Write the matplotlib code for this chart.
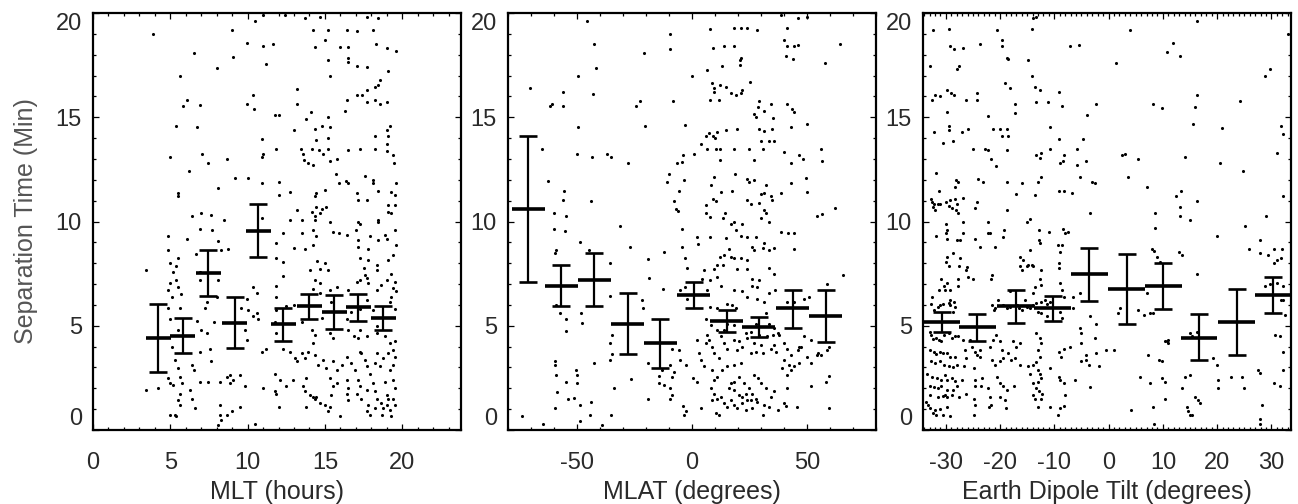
import numpy as np
import matplotlib
matplotlib.use("Agg")
import matplotlib.pyplot as plt
from matplotlib.ticker import MultipleLocator

plt.rcParams['font.family'] = ['Liberation Sans', 'DejaVu Sans']

# binned means with upper / lower error limits
mlt_bin = [4.22, 5.80, 7.46, 9.18, 10.69, 12.31, 13.99, 15.61, 17.16, 18.78]
mlt_mean = [4.40, 4.52, 7.51, 5.15, 9.54, 5.08, 5.95, 5.67, 5.88, 5.36]
mlt_hi = [6.04, 5.36, 8.63, 6.39, 10.84, 5.84, 6.52, 6.47, 6.52, 5.95]
mlt_lo = [2.80, 3.71, 6.43, 3.92, 8.28, 4.28, 5.31, 4.84, 5.24, 4.80]

mlat_bin = [-71.1, -56.9, -42.5, -28.0, -13.7, 0.8, 15.0, 29.1, 43.7, 58.2]
mlat_mean = [10.60, 6.91, 7.19, 5.08, 4.16, 6.47, 5.24, 4.93, 5.84, 5.47]
mlat_hi = [14.10, 7.91, 8.47, 6.55, 5.32, 7.11, 5.76, 5.40, 6.71, 6.71]
mlat_lo = [7.11, 5.95, 5.95, 3.65, 2.96, 5.84, 4.72, 4.45, 4.88, 4.24]

tilt_bin = [-30.76, -24.2, -17.1, -10.3, -3.56, 3.33, 10.07, 16.65, 23.6, 30.3]
tilt_mean = [5.20, 4.93, 5.95, 5.84, 7.47, 6.75, 6.92, 4.43, 5.17, 6.47]
tilt_hi = [5.67, 5.55, 6.71, 6.44, 8.71, 8.43, 7.99, 5.55, 6.75, 7.35]
tilt_lo = [4.71, 4.28, 5.12, 5.24, 6.20, 5.08, 5.80, 3.36, 3.60, 5.60]

# individual events (x, separation time)
mlt_events = [
    (3.86, 19.0), (8.97, 19.2), (9.94, 18.55), (10.47, 19.6), (11.0, 18.4), (11.66, 18.5),
    (9.07, 17.9), (8.0, 17.35), (11.16, 17.55), (11.0, 19.9), (12.4, 19.9), (13.7, 19.75),
    (14.7, 19.8), (17.7, 19.8), (18.45, 19.75), (14.25, 19.2), (15.2, 19.2), (16.4, 19.2),
    (17.05, 19.15), (18.1, 19.2), (15.0, 18.7), (14.35, 18.35), (15.97, 18.35), (16.5, 18.35),
    (18.3, 18.5), (19.0, 18.3), (19.6, 18.2), (15.2, 17.75), (16.5, 17.85), (16.5, 17.65),
    (17.05, 17.45), (17.7, 17.4), (19.1, 17.2), (5.63, 17.0), (15.3, 17.0), (6.5, 18.1),
    (18.55, 16.8), (18.45, 16.55), (18.25, 16.45), (17.7, 16.3), (17.4, 16.05), (17.05, 16.05),
    (17.7, 15.75), (18.25, 15.85), (18.55, 15.65), (19.0, 15.75), (16.4, 15.85), (16.3, 15.3),
    (13.2, 16.35), (6.05, 15.85), (5.85, 15.55), (6.9, 15.6), (9.94, 15.65), (10.37, 16.05),
    (10.4, 15.4), (11.8, 15.1), (12.05, 15.1), (13.2, 15.65), (14.1, 15.25), (15.2, 15.0),
    (13.8, 14.9), (5.4, 14.6), (6.7, 14.55), (13.0, 14.4), (14.35, 14.45), (14.8, 14.6),
    (15.3, 14.55), (19.0, 14.4), (19.2, 14.6), (19.05, 14.1), (18.25, 14.1), (19.0, 13.7),
    (14.45, 13.9), (15.2, 14.0), (10.9, 13.95), (13.45, 13.5), (14.15, 13.5), (14.6, 13.45),
    (15.2, 13.5), (16.5, 13.45), (17.25, 13.5), (18.25, 13.5), (19.0, 13.4), (11.85, 13.5),
    (4.98, 13.1), (7.03, 13.25), (11.0, 13.25), (10.9, 13.1), (13.6, 13.25), (13.65, 12.95),
    (13.9, 12.8), (14.2, 12.7), (14.9, 13.25), (15.3, 12.9), (15.8, 13.0), (19.4, 13.2),
    (19.45, 12.8), (7.45, 12.8), (8.65, 13.0), (6.2, 12.4), (9.2, 12.1), (10.05, 12.1),
    (10.9, 11.85), (12.0, 11.9), (12.75, 11.4), (15.7, 12.3), (15.9, 11.85), (16.35, 11.95),
    (16.5, 11.85), (17.6, 12.2), (18.1, 12.0), (18.1, 11.85), (19.6, 11.85), (8.1, 11.6),
    (12.0, 11.25), (14.45, 11.35), (14.35, 11.2), (15.0, 11.5), (17.1, 11.35), (17.15, 11.05),
    (17.7, 11.05), (18.45, 11.45), (19.25, 11.4), (19.55, 11.25), (5.52, 11.35), (5.52, 11.2),
    (14.45, 10.7), (14.8, 10.6), (15.1, 10.7), (14.15, 10.45), (14.35, 10.25), (13.2, 10.55),
    (12.75, 10.05), (13.5, 10.05), (14.35, 10.05), (14.7, 10.4), (15.3, 10.0), (19.1, 10.8),
    (19.1, 10.45), (19.3, 10.4), (19.55, 10.8), (18.45, 10.05), (18.4, 10.0), (6.4, 10.25),
    (7.0, 10.4), (7.6, 10.3), (8.5, 10.05), (10.9, 10.15), (17.15, 10.0), (17.25, 9.9),
    (15.55, 9.5), (15.9, 9.45), (13.5, 9.45), (14.25, 9.6), (14.45, 9.3), (16.4, 9.35),
    (17.0, 9.6), (17.15, 9.1), (17.9, 9.3), (18.9, 9.35), (19.55, 9.6), (6.9, 9.65),
    (7.7, 9.6), (4.87, 9.3), (6.05, 9.15), (12.3, 9.45), (11.85, 8.95), (8.1, 9.05),
    (8.75, 8.7), (8.3, 8.65), (13.0, 8.75), (13.7, 8.7), (14.25, 8.85), (17.15, 8.8),
    (17.8, 8.7), (18.45, 9.1), (19.0, 9.15), (19.6, 8.85), (4.87, 8.65), (5.52, 8.25),
    (4.98, 8.0), (6.65, 8.45), (11.85, 8.25), (12.3, 8.05), (14.5, 8.1), (15.0, 8.0),
    (17.25, 8.25), (17.8, 8.15), (18.35, 7.9), (19.1, 8.15), (19.4, 8.4), (3.43, 7.65),
    (5.4, 7.85), (5.2, 7.6), (6.9, 7.6), (14.05, 7.65), (14.7, 7.7), (15.2, 7.65),
    (17.5, 7.75), (17.6, 7.45), (17.7, 7.3), (18.35, 7.65), (19.25, 7.5), (4.98, 7.05),
    (5.4, 7.2), (6.9, 7.2), (8.1, 7.2), (12.3, 7.4), (14.35, 7.2), (14.7, 7.05),
    (17.05, 7.1), (17.25, 7.2), (17.8, 7.05), (19.0, 7.2), (19.55, 7.1), (4.87, 6.7),
    (5.5, 6.85), (10.35, 6.85), (10.6, 6.55), (11.85, 6.9), (14.25, 6.75), (14.7, 6.55),
    (15.3, 6.7), (15.75, 6.85), (16.5, 6.7), (18.35, 6.7), (18.65, 6.95), (19.4, 6.8),
    (19.6, 6.65), (5.1, 6.4), (5.7, 6.5), (7.35, 6.15), (8.0, 6.4), (9.95, 6.3),
    (11.85, 6.4), (13.0, 6.0), (15.4, 6.15), (17.7, 6.25), (19.2, 6.15), (19.3, 6.4),
    (4.87, 5.85), (5.6, 5.85), (7.25, 5.85), (9.55, 5.85), (10.05, 5.75), (10.6, 5.6),
    (10.35, 5.45), (10.7, 5.3), (11.85, 5.75), (12.5, 5.95), (16.7, 5.65), (17.25, 5.8),
    (18.1, 5.75), (19.55, 5.8), (4.98, 5.3), (5.52, 4.8), (6.7, 5.25), (7.0, 4.8),
    (7.8, 5.2), (7.35, 4.65), (9.8, 4.8), (9.95, 4.3), (11.75, 5.2), (11.85, 4.65),
    (13.5, 5.2), (14.15, 4.8), (14.35, 4.55), (14.25, 4.15), (14.8, 5.35), (15.3, 4.65),
    (15.55, 4.4), (16.4, 5.3), (16.5, 4.8), (16.85, 4.5), (17.25, 4.8), (17.15, 4.4),
    (17.7, 4.5), (18.35, 5.0), (18.35, 4.65), (18.9, 4.5), (19.2, 4.15), (19.55, 4.25),
    (19.4, 3.85), (5.1, 4.0), (5.3, 3.35), (5.52, 2.95), (6.9, 3.75), (7.55, 3.9),
    (7.65, 3.3), (6.4, 3.1), (6.5, 2.9), (10.9, 3.75), (11.2, 3.9), (12.3, 3.9),
    (12.75, 3.75), (13.05, 3.45), (13.2, 3.3), (13.5, 3.7), (13.7, 3.45), (13.9, 3.75),
    (14.35, 3.6), (14.55, 3.1), (14.9, 3.35), (15.1, 2.95), (15.55, 3.3), (15.75, 2.9),
    (16.1, 3.1), (16.4, 3.5), (16.7, 3.2), (16.95, 2.9), (17.25, 3.75), (17.35, 3.7),
    (17.6, 3.35), (17.7, 3.05), (17.9, 2.7), (18.35, 3.7), (18.25, 3.2), (18.55, 3.05),
    (18.75, 3.45), (19.1, 3.7), (19.55, 3.5), (19.4, 3.1), (19.2, 2.9), (8.65, 2.55),
    (8.85, 2.65), (9.5, 2.65), (8.2, 2.3), (8.85, 2.25), (9.05, 2.4), (6.9, 2.3),
    (7.45, 2.3), (5.6, 2.55), (5.75, 2.25), (4.87, 2.5), (4.2, 2.0), (3.43, 1.9),
    (4.98, 2.25), (5.2, 2.15), (5.6, 1.75), (5.52, 1.45), (5.6, 1.2), (6.25, 1.9),
    (6.4, 1.5), (6.6, 1.05), (4.98, 0.7), (5.3, 0.7), (5.35, 0.65), (9.85, 2.1),
    (11.0, 2.0), (11.75, 2.7), (12.1, 2.4), (11.85, 1.75), (11.75, 1.85), (12.5, 2.1),
    (12.95, 2.4), (12.0, 1.1), (13.8, 2.5), (13.6, 2.1), (13.7, 1.85), (14.05, 1.7),
    (14.25, 1.6), (14.35, 1.5), (14.45, 1.6), (13.8, 1.1), (14.7, 1.3), (15.0, 1.2),
    (15.3, 1.1), (15.2, 0.9), (15.3, 2.5), (15.55, 2.1), (15.4, 1.7), (15.75, 2.25),
    (15.95, 0.65), (16.4, 2.4), (16.5, 2.0), (16.4, 1.75), (16.5, 1.45), (17.15, 2.4),
    (17.25, 2.1), (17.05, 1.75), (17.35, 1.5), (17.7, 1.9), (17.8, 1.2), (17.7, 0.9),
    (17.9, 0.7), (18.1, 2.25), (18.25, 1.85), (18.35, 1.5), (18.25, 1.05), (18.65, 1.3),
    (18.75, 1.05), (19.0, 1.7), (19.1, 1.5), (19.0, 1.2), (19.2, 0.95), (19.3, 0.65),
    (19.4, 2.4), (19.55, 2.0), (19.4, 1.5), (19.55, 1.2), (18.9, 2.3), (8.2, 1.2),
    (8.2, 0.7), (8.3, 0.5), (8.65, 0.7), (9.0, 0.9), (9.5, 1.1), (8.1, 0.25),
    (10.47, 0.3), (18.7, 0.7),
]

mlat_events = [
    (-45.7, 19.6), (-9.4, 19.0), (-9.4, 18.25), (-20.7, 18.1), (-42.5, 18.5), (-41.6, 17.35),
    (-49.6, 17.0), (-70.4, 16.4), (-55.9, 16.2), (-43.1, 16.1), (-61.0, 15.65), (-61.7, 15.55),
    (-55.9, 15.55), (-22.7, 15.8), (-24.2, 15.55), (-49.6, 14.55), (-20.3, 14.6), (-65.3, 13.5),
    (-50.1, 13.25), (-43.5, 13.1), (-37.0, 13.25), (-35.2, 13.1), (-28.0, 12.8), (-62.4, 11.95),
    (-55.5, 11.45), (-56.1, 11.05), (-44.0, 11.0), (-59.9, 10.4), (-54.7, 10.25), (-60.2, 9.65),
    (-55.1, 9.55), (-31.5, 9.8), (-48.9, 9.0), (-59.1, 8.65), (-59.5, 8.5), (-45.0, 8.65),
    (-35.5, 8.0), (-27.1, 8.8), (-59.1, 6.0), (-57.6, 5.6), (-54.7, 5.3), (-54.7, 4.75),
    (-48.3, 5.6), (-47.9, 5.15), (-35.5, 6.45), (-34.8, 4.55), (-35.5, 4.15), (-34.8, 3.65),
    (-35.5, 3.35), (-33.8, 2.0), (-59.5, 3.3), (-59.5, 3.1), (-59.1, 2.65), (-54.7, 2.3),
    (-58.8, 1.8), (-54.1, 1.5), (-51.2, 1.55), (-59.5, 1.05), (-50.3, 2.9), (-50.1, 2.65),
    (-49.9, 2.25), (-48.6, 1.2), (-44.0, 1.35), (-44.5, 0.7), (-42.8, 3.2), (-48.6, 0.45),
    (-39.2, 0.25), (-35.2, 0.7), (-64.6, 0.3), (-74.0, 0.65), (-26.5, 2.45), (-19.2, 3.2),
    (-19.2, 1.5), (-21.7, 6.25), (-21.3, 5.85), (-19.2, 8.2), (-18.8, 7.3), (-12.3, 8.55),
    (-12.6, 6.75), (-14.4, 2.6), (-13.0, 2.9), (-12.0, 2.15), (-14.4, 2.25), (-9.7, 2.0),
    (-8.6, 2.55), (-9.4, 3.1), (-8.0, 2.8), (-8.7, 3.9), (-9.7, 1.5), (-8.7, 1.7),
    (-5.6, 3.85), (-5.3, 3.35), (-2.8, 3.1), (-3.8, 1.15), (-2.8, 0.9), (-3.3, 0.7),
    (0.6, 2.5), (2.3, 2.3), (4.0, 1.05), (-10.1, 12.3), (-10.8, 11.9), (-8.0, 11.0),
    (-6.8, 10.6), (-6.1, 10.5), (-5.8, 11.45), (-6.5, 12.8), (-4.3, 12.85), (-4.0, 13.2),
    (-3.6, 12.0), (-3.2, 14.65), (-8.3, 15.8), (0.1, 17.0), (0.8, 13.25), (-4.4, 9.65),
    (-4.4, 8.8), (-3.2, 8.25), (-2.2, 7.75), (-5.3, 6.7), (-3.2, 6.85), (-2.2, 6.3),
    (2.3, 9.25), (2.6, 8.9), (7.8, 9.25), (4.5, 7.25), (5.2, 7.65), (6.6, 6.7),
    (3.7, 13.7), (6.6, 13.5), (5.9, 14.1), (7.4, 14.25), (6.6, 17.25), (7.8, 19.25),
    (9.2, 18.3), (8.8, 16.65), (9.5, 16.4), (9.5, 16.2), (7.8, 15.85), (11.7, 15.85),
    (12.2, 16.55), (9.2, 14.1), (9.8, 14.0), (11.0, 14.3), (14.6, 14.4), (10.6, 13.5),
    (12.2, 13.5), (12.2, 12.95), (8.1, 11.75), (9.5, 12.15), (9.2, 11.1), (10.6, 11.0),
    (6.0, 10.8), (6.3, 10.4), (7.8, 10.2), (13.6, 10.15), (14.2, 10.4), (12.4, 11.4),
    (17.5, 11.45), (18.5, 12.3), (18.2, 13.5), (13.9, 18.4), (18.2, 18.4), (13.2, 17.45),
    (18.2, 19.3), (21.2, 19.3), (24.1, 19.3), (28.1, 19.2), (20.7, 17.75), (21.2, 17.85),
    (20.7, 17.5), (17.1, 16.15), (19.0, 16.05), (21.2, 16.15), (21.9, 16.3), (14.6, 16.45),
    (25.2, 16.7), (19.4, 14.45), (24.8, 13.5), (27.0, 12.95), (29.2, 15.8), (28.7, 15.5),
    (27.0, 15.15), (27.7, 15.0), (31.3, 15.3), (34.3, 15.65), (29.2, 14.45), (31.1, 14.35),
    (30.2, 13.85), (30.7, 13.5), (33.6, 13.85), (35.7, 13.85), (35.1, 14.95), (34.7, 14.45),
    (41.5, 15.65), (43.3, 15.4), (44.4, 15.25), (43.0, 14.55), (41.5, 19.3), (40.0, 18.7),
    (41.2, 18.4), (44.4, 18.4), (46.2, 18.45), (40.8, 17.95), (43.7, 17.8), (45.9, 19.75),
    (50.2, 19.8), (38.6, 19.9), (57.8, 17.6), (64.5, 18.5), (40.0, 13.35), (43.0, 12.8),
    (46.6, 13.2), (48.1, 13.0), (43.0, 11.85), (49.5, 12.1), (50.2, 11.4), (50.2, 14.7),
    (56.0, 13.5), (56.7, 12.9), (54.3, 10.25), (56.7, 10.35), (62.3, 10.65), (38.6, 11.35),
    (34.3, 11.2), (34.7, 11.05), (32.1, 11.75), (31.3, 11.35), (29.9, 11.3), (29.2, 10.9),
    (31.3, 10.55), (32.1, 10.4), (30.2, 10.15), (33.6, 10.0), (38.6, 9.5), (41.8, 9.45),
    (44.4, 9.45), (44.4, 8.7), (27.0, 12.0), (24.1, 12.05), (24.8, 11.9), (24.1, 11.05),
    (25.5, 10.85), (18.2, 10.0), (16.8, 9.9), (19.0, 9.6), (21.9, 9.9), (21.2, 9.3),
    (24.1, 9.25), (27.7, 9.25), (25.9, 8.8), (27.0, 8.65), (30.7, 8.75), (31.3, 8.95),
    (33.6, 8.65), (35.7, 8.75), (14.6, 9.2), (16.1, 8.7), (12.2, 8.3), (13.9, 8.4),
    (11.0, 7.9), (13.6, 7.9), (16.8, 8.3), (18.2, 8.25), (21.2, 8.25), (24.1, 8.15),
    (9.5, 7.7), (7.8, 7.2), (11.0, 7.35), (12.4, 6.9), (19.7, 7.7), (24.1, 7.7),
    (25.9, 7.25), (29.2, 7.2), (33.6, 7.75), (35.7, 7.5), (25.9, 6.9), (28.1, 6.85),
    (18.2, 6.7), (21.9, 6.65), (24.1, 6.4), (28.1, 6.3), (31.3, 6.15), (33.6, 6.55),
    (36.0, 6.7), (41.5, 6.15), (44.4, 6.15), (48.8, 6.3), (51.0, 6.4), (58.7, 7.0),
    (65.6, 7.45), (15.1, 6.05), (17.5, 6.0), (19.0, 5.85), (7.8, 5.9), (11.0, 5.85),
    (6.0, 5.3), (8.1, 5.05), (11.0, 4.8), (12.4, 4.5), (7.4, 4.3), (8.9, 4.0),
    (9.5, 3.7), (11.7, 3.45), (6.6, 4.55), (6.3, 4.15), (13.9, 4.15), (15.3, 3.9),
    (18.2, 4.3), (19.7, 3.85), (20.4, 4.25), (21.9, 4.0), (24.1, 4.4), (25.5, 3.7),
    (27.0, 4.15), (27.7, 3.75), (29.9, 4.1), (30.7, 3.7), (32.8, 4.5), (34.3, 3.9),
    (35.7, 4.1), (36.4, 3.75), (37.9, 4.55), (40.0, 4.15), (41.5, 3.9), (43.0, 3.6),
    (45.9, 3.85), (47.3, 4.0), (50.2, 3.5), (51.7, 3.2), (54.6, 3.7), (56.0, 3.6),
    (58.9, 3.85), (42.3, 3.1), (44.4, 3.05), (40.0, 3.35), (43.0, 2.9), (46.6, 3.2),
    (41.5, 2.65), (39.3, 2.95), (41.5, 2.0), (51.7, 2.1), (58.2, 2.3), (59.6, 2.6),
    (59.6, 1.05), (45.6, 1.1), (40.0, 1.3), (40.8, 1.15), (37.2, 0.95), (33.6, 1.1),
    (31.3, 1.2), (30.7, 0.7), (35.7, 1.85), (34.3, 1.6), (32.1, 2.0), (29.9, 2.25),
    (28.5, 2.5), (27.0, 2.65), (24.8, 2.0), (23.3, 1.75), (21.9, 1.6), (20.4, 1.7),
    (22.6, 2.25), (25.9, 1.75), (27.7, 1.5), (25.5, 1.45), (24.1, 1.45), (18.2, 1.9),
    (16.8, 2.25), (16.1, 2.0), (18.2, 2.3), (20.4, 2.55), (13.2, 2.9), (15.3, 3.05),
    (18.2, 3.1), (21.2, 3.2), (11.0, 2.55), (8.8, 2.9), (9.5, 2.4), (8.4, 2.0),
    (9.5, 1.75), (11.0, 1.5), (8.8, 1.45), (12.4, 1.6), (13.9, 1.3), (15.3, 1.1),
    (16.8, 1.45), (18.2, 1.2), (19.7, 1.05), (10.3, 0.8), (11.7, 0.7), (21.9, 1.3),
    (23.3, 0.95), (25.9, 1.05), (28.1, 1.35), (3.7, 3.35), (3.0, 3.7), (2.3, 4.3),
    (5.2, 3.05), (35.1, 4.55), (33.6, 5.1), (32.1, 5.6), (35.7, 4.9), (37.2, 4.65),
    (25.5, 4.7), (27.7, 5.1), (29.2, 4.55), (23.3, 4.65), (13.9, 4.8), (15.3, 5.1),
    (18.2, 5.05), (46.6, 4.0), (48.8, 4.5), (51.7, 4.3), (54.3, 3.6), (59.6, 4.0),
]

tilt_events = [
    (-32.4, 19.2), (-29.5, 19.25), (-29.3, 18.4), (-28.5, 18.25), (-26.9, 18.3), (-23.7, 18.5),
    (-20.6, 19.2), (-19.7, 18.7), (-19.7, 18.4), (-18.8, 17.85), (-18.5, 17.8), (-14.8, 17.75),
    (-14.2, 19.25), (-14.0, 19.75), (-13.3, 19.8), (-7.1, 18.4), (-5.4, 18.45), (3.9, 19.2),
    (1.4, 17.6), (10.7, 18.15), (11.9, 18.55), (13.1, 17.95), (16.35, 19.6), (28.8, 17.0),
    (29.8, 17.3), (-33.0, 17.45), (-32.6, 15.85), (-32.0, 16.05), (-31.1, 16.0), (-29.8, 16.3),
    (-29.1, 16.15), (-28.5, 16.05), (-28.0, 17.3), (-27.5, 17.45), (-24.3, 16.15), (-24.3, 15.85),
    (-26.3, 15.85), (-19.1, 16.65), (-18.2, 16.4), (-17.25, 15.65), (-14.2, 17.0), (-13.6, 16.45),
    (-12.6, 16.3), (-13.3, 15.75), (-11.1, 15.75), (-9.1, 16.2), (-8.6, 15.55), (-17.25, 15.2),
    (-4.0, 15.1), (-2.4, 15.65), (8.2, 15.65), (9.8, 15.45), (16.2, 16.05), (15.9, 15.5),
    (15.6, 14.7), (24.2, 15.8), (20.8, 14.5), (31.7, 14.6), (-32.2, 14.3), (-29.7, 15.25),
    (-29.5, 14.6), (-29.5, 14.4), (-30.5, 13.75), (-28.7, 13.85), (-24.9, 13.5), (-22.8, 13.5),
    (-22.2, 13.45), (-27.1, 14.3), (-25.9, 14.45), (-22.2, 15.05), (-21.3, 14.45), (-20.0, 14.45),
    (-18.8, 14.45), (-19.7, 14.1), (-18.5, 14.1), (-18.7, 13.45), (-21.6, 13.0), (-20.8, 12.65),
    (-13.3, 13.2), (-12.4, 13.3), (-12.6, 13.05), (-10.8, 14.55), (-9.1, 13.95), (-9.0, 12.8),
    (-8.4, 12.9), (-8.2, 13.2), (-10.8, 13.5), (-5.9, 13.5), (-5.9, 12.7), (-4.7, 13.95),
    (-4.2, 12.9), (-12.4, 12.15), (-13.0, 11.9), (-9.1, 11.45), (-8.2, 11.45), (-6.7, 11.35),
    (-5.3, 12.15), (-3.1, 11.9), (-2.5, 11.85), (2.4, 13.2), (3.0, 13.25), (5.5, 13.0),
    (3.6, 12.15), (7.1, 11.65), (24.8, 12.4), (20.5, 12.8), (14.1, 13.1), (31.0, 13.3),
    (-31.8, 12.35), (-31.2, 11.45), (-28.1, 12.0), (-27.7, 11.9), (-28.3, 11.65), (-24.0, 12.05),
    (-23.2, 11.9), (-18.8, 11.9), (-17.1, 11.3), (-16.0, 11.85), (-13.6, 11.25), (-32.8, 11.1),
    (-32.6, 10.95), (-32.2, 10.85), (-31.5, 10.85), (-31.0, 10.85), (-32.3, 10.7), (-32.0, 10.55),
    (-30.0, 10.95), (-29.2, 11.05), (-28.3, 11.1), (-29.5, 10.75), (-28.9, 10.65), (-28.1, 10.55),
    (-27.7, 10.4), (-28.0, 10.85), (-26.9, 11.15), (-26.8, 10.0), (-24.3, 10.95), (-24.6, 10.65),
    (-18.8, 10.55), (-15.1, 10.0), (-14.5, 10.1), (-30.0, 9.9), (-29.7, 9.6), (-30.0, 9.45),
    (-29.7, 9.15), (-31.8, 9.3), (-28.0, 9.1), (-27.4, 9.1), (-26.8, 9.45), (-22.3, 10.0),
    (-21.9, 9.45), (-22.3, 9.45), (-19.3, 9.6), (-19.4, 9.25), (-24.6, 9.15), (-23.7, 8.8),
    (-20.9, 8.8), (-12.8, 9.6), (-12.8, 9.1), (-12.6, 8.95), (-11.0, 9.5), (-9.3, 8.85),
    (-8.6, 8.85), (-8.4, 9.65), (-8.1, 9.45), (-7.4, 9.5), (-9.0, 8.55), (-9.1, 8.0),
    (-3.4, 10.4), (8.5, 10.4), (8.5, 9.7), (12.5, 11.2), (13.1, 10.7), (13.1, 10.25),
    (15.0, 10.05), (16.2, 11.0), (13.4, 11.45), (20.0, 9.3), (25.1, 9.8), (29.0, 10.25),
    (32.2, 11.2), (7.9, 8.7), (8.3, 8.6), (12.9, 8.55), (13.5, 8.4), (16.2, 7.5),
    (25.9, 8.7), (27.9, 9.1), (27.9, 8.5), (29.3, 8.4), (30.5, 8.7), (31.7, 8.25),
    (32.0, 8.7), (30.5, 8.0), (31.1, 8.15), (28.8, 6.9), (29.8, 7.0), (31.0, 7.05),
    (32.2, 6.9), (31.7, 6.25), (32.2, 6.25), (-29.7, 8.3), (-30.0, 8.05), (-29.5, 7.85),
    (-28.7, 8.5), (-27.4, 8.25), (-27.5, 7.85), (-26.3, 7.65), (-25.9, 7.35), (-24.9, 7.25),
    (-26.1, 7.8), (-30.8, 7.25), (-30.4, 6.9), (-30.2, 6.7), (-31.2, 6.7), (-29.7, 7.05),
    (-29.2, 6.7), (-29.2, 6.25), (-28.5, 6.15), (-27.7, 7.25), (-27.7, 6.9), (-21.4, 7.45),
    (-21.6, 7.25), (-16.3, 8.3), (-15.7, 8.15), (-15.1, 7.85), (-16.3, 7.85), (-16.0, 7.65),
    (-14.5, 8.65), (-14.8, 7.9), (-14.2, 7.9), (-13.9, 7.85), (-12.4, 7.65), (-12.6, 7.25),
    (-12.4, 6.95), (-13.6, 6.85), (-13.9, 6.55), (-9.1, 7.75), (-9.0, 7.05), (-8.5, 6.7),
    (-8.2, 6.4), (-18.2, 6.65), (-5.3, 6.55), (-20.3, 6.25), (-19.4, 6.0), (-18.8, 5.85),
    (-18.2, 5.9), (-16.9, 6.0), (-16.6, 5.85), (-16.0, 5.75), (-15.4, 6.25), (-15.1, 5.9),
    (-14.5, 5.85), (-13.9, 6.0), (-13.3, 6.1), (-12.4, 6.15), (-11.7, 6.25), (-11.4, 6.05),
    (-10.8, 6.15), (-13.0, 5.65), (-12.4, 5.6), (-11.4, 5.45), (-6.6, 6.4), (-6.6, 5.85),
    (5.5, 5.75), (6.5, 5.5), (7.6, 5.6), (8.2, 5.6), (-2.3, 5.1), (-3.4, 5.45),
    (-5.2, 4.9), (2.1, 5.85), (1.8, 5.6), (-9.0, 5.65), (-8.6, 5.35), (-32.6, 6.4),
    (-32.8, 6.05), (-32.2, 5.75), (-31.5, 5.9), (-31.1, 6.0), (-30.5, 6.05), (-29.5, 6.1),
    (-29.2, 6.0), (-28.3, 5.9), (-28.6, 5.65), (-21.4, 6.0), (-20.9, 5.85), (-21.1, 5.75),
    (-33.0, 4.7), (-32.8, 4.55), (-32.4, 4.35), (-31.8, 4.4), (-31.2, 4.3), (-30.8, 4.25),
    (-30.4, 4.55), (-29.5, 4.65), (-28.9, 4.4), (-28.3, 4.5), (-27.7, 4.5), (-32.9, 3.85),
    (-32.2, 3.75), (-31.8, 3.65), (-31.1, 3.75), (-30.5, 3.7), (-29.7, 3.7), (-29.3, 3.5),
    (-28.3, 3.5), (-32.8, 3.3), (-32.0, 3.2), (-31.1, 3.3), (-30.4, 3.1), (-29.5, 3.05),
    (-28.7, 3.0), (-28.0, 3.1), (-33.5, 2.7), (-32.6, 2.55), (-31.7, 2.5), (-30.8, 2.4),
    (-30.2, 2.65), (-29.7, 2.4), (-28.9, 2.5), (-28.3, 2.35), (-32.9, 2.1), (-32.2, 2.05),
    (-31.4, 2.0), (-30.8, 2.1), (-29.7, 1.9), (-28.6, 1.9), (-28.0, 2.1), (-32.9, 1.7),
    (-31.5, 1.6), (-30.6, 1.65), (-30.2, 1.7), (-29.7, 1.6), (-28.9, 1.7), (-27.5, 1.6),
    (-33.6, 1.35), (-33.2, 1.2), (-32.9, 1.05), (-32.0, 0.95), (-31.1, 1.0), (-29.7, 1.1),
    (-29.2, 0.65), (-32.4, 0.8), (-31.8, 0.7), (-30.6, 0.7), (-26.8, 4.3), (-26.5, 3.85),
    (-26.3, 3.45), (-26.6, 3.05), (-27.1, 2.4), (-26.2, 1.75), (-25.6, 4.3), (-25.2, 4.0),
    (-24.6, 3.75), (-24.2, 3.6), (-23.7, 3.5), (-23.7, 3.85), (-24.8, 2.95), (-24.6, 2.4),
    (-24.6, 2.1), (-24.8, 1.5), (-24.6, 1.2), (-24.8, 0.7), (-23.4, 2.5), (-23.6, 2.1),
    (-22.2, 2.0), (-21.9, 1.6), (-22.0, 1.1), (-21.6, 1.2), (-21.9, 4.0), (-21.3, 4.3),
    (-20.8, 4.55), (-20.1, 4.25), (-19.7, 3.85), (-21.4, 3.35), (-20.9, 3.1), (-20.0, 3.3),
    (-19.4, 3.45), (-20.6, 2.55), (-20.0, 2.25), (-19.4, 2.1), (-18.8, 1.9), (-19.1, 1.45),
    (-20.0, 1.6), (-18.9, 1.05), (-18.5, 3.7), (-17.9, 3.35), (-17.25, 3.45), (-16.3, 3.1),
    (-17.6, 4.25), (-17.0, 4.0), (-16.3, 4.15), (-17.4, 2.1), (-14.8, 3.05), (-14.5, 2.7),
    (-13.9, 3.1), (-14.0, 2.25), (-13.3, 2.0), (-13.9, 1.7), (-13.6, 1.5), (-12.8, 1.85),
    (-13.3, 3.25), (-13.0, 2.9), (-12.6, 2.7), (-12.4, 2.5), (-13.0, 2.3), (-13.3, 4.65),
    (-12.6, 4.4), (-12.4, 4.15), (-13.0, 3.85), (-12.6, 3.5), (-13.0, 1.1), (-12.4, 1.5),
    (-12.2, 1.75), (-10.8, 1.1), (-10.8, 2.95), (-9.1, 3.75), (-8.8, 3.5), (-8.2, 3.9),
    (-7.1, 4.0), (-9.1, 2.55), (-9.0, 2.4), (-8.2, 2.25), (-8.1, 1.7), (-9.3, 0.7),
    (-9.0, 1.05), (-8.3, 1.15), (-6.2, 2.4), (-5.0, 3.3), (-4.1, 3.35), (-3.7, 3.1),
    (-3.4, 2.05), (-5.0, 4.65), (-5.0, 4.15), (-2.5, 4.4), (-1.7, 3.05), (-2.3, 3.7),
    (-0.5, 3.85), (0.9, 3.85), (-4.1, 3.6), (5.7, 2.55), (4.2, 0.95), (8.4, 0.3),
    (7.3, 3.6), (7.6, 2.25), (8.1, 1.1), (9.8, 2.5), (10.4, 2.3), (10.4, 1.5),
    (9.2, 3.35), (9.8, 3.3), (10.4, 4.25), (11.0, 4.3), (13.5, 2.0), (14.1, 2.55),
    (14.9, 2.65), (14.5, 1.1), (14.6, 0.9), (14.9, 0.7), (15.3, 0.7), (15.9, 1.6),
    (16.5, 1.45), (16.85, 1.3), (20.2, 2.4), (20.2, 2.0), (20.0, 3.1), (19.2, 3.45),
    (22.6, 2.55), (25.0, 2.0), (27.6, 2.9), (27.8, 2.75), (28.2, 1.2), (27.9, 0.55),
    (27.9, 0.3), (30.4, 2.25), (31.6, 2.1), (32.2, 2.9), (32.2, 3.75), (30.7, 4.55),
    (31.5, 4.5), (32.5, 5.5), (32.1, 14.2), (33.0, 19.0), (15.0, 4.65), (15.3, 4.5),
    (16.2, 4.7), (11.0, 4.15), (10.7, 4.25), (7.0, 6.55), (9.0, 8.3), (9.5, 8.05),
    (24.5, 2.55),
]

panels = [
    (mlt_events, mlt_bin, mlt_mean, mlt_lo, mlt_hi, (0, 23.8), [0, 5, 10, 15, 20], 1, 'MLT (hours)'),
    (mlat_events, mlat_bin, mlat_mean, mlat_lo, mlat_hi, (-80, 80), [-50, 0, 50], 10, 'MLAT (degrees)'),
    (tilt_events, tilt_bin, tilt_mean, tilt_lo, tilt_hi, (-34.2, 33.6), [-30, -20, -10, 0, 10, 20, 30], 1,
     'Earth Dipole Tilt (degrees)'),
]

fig = plt.figure(figsize=(12.98, 5.04), dpi=100)
lefts = [93, 508, 923]
text_col = '#2a2a2a'

for i, (events, xb, mean, lo, hi, xlim, xticks, xminor, xlabel) in enumerate(panels):
    ax = fig.add_axes([lefts[i] / 1298, 74 / 504, 368 / 1298, 417 / 504])
    ev = np.array(events)
    ax.scatter(ev[:, 0], ev[:, 1], s=5, c='black', marker='o', linewidths=0, zorder=2)

    xb = np.array(xb)
    mean = np.array(mean)
    half = np.diff(xb).mean() / 2
    ax.errorbar(xb, mean, yerr=[mean - np.array(lo), np.array(hi) - mean], fmt='none',
                ecolor='black', elinewidth=1.6, capsize=6.5, capthick=1.9, zorder=3)
    ax.hlines(mean, xb - half, xb + half, colors='black', lw=2.6, zorder=3)

    ax.set_xlim(*xlim)
    ax.set_ylim(0, 20)
    ax.set_xticks(xticks)
    ax.set_xticklabels([str(t) for t in xticks])
    ax.set_yticks([0, 5, 10, 15, 20])
    ax.xaxis.set_minor_locator(MultipleLocator(xminor))
    ax.yaxis.set_minor_locator(MultipleLocator(1))
    ax.tick_params(which='both', direction='in', top=True, right=True, width=0.9, colors='black',
                   labelcolor=text_col, labelsize=17)
    ax.tick_params(which='major', length=4)
    ax.tick_params(which='minor', length=2)
    ax.tick_params(axis='x', pad=16)
    ax.tick_params(axis='y', pad=8)
    ylabs = ax.get_yticklabels()
    ylabs[0].set_va('bottom')
    ylabs[-1].set_va('top')
    for sp in ax.spines.values():
        sp.set_linewidth(1.6)
    ax.set_xlabel(xlabel, fontsize=18, color=text_col, labelpad=4)
    if i == 0:
        ax.set_ylabel('Separation Time (Min)', fontsize=18, color='#555555', labelpad=13)

fig.savefig('out.png', dpi=100)
